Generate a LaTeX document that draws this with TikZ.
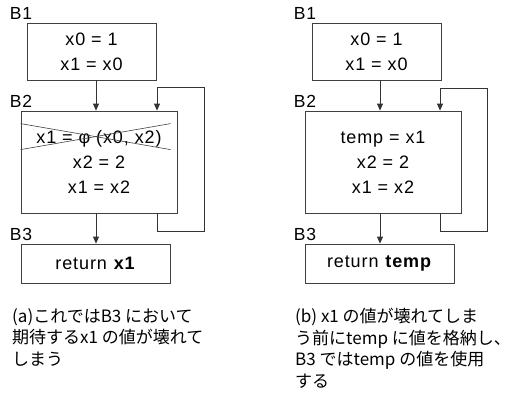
\documentclass[tikz,border=0pt]{standalone}
\usepackage{fontspec}
\setmainfont{Liberation Sans}[LetterSpace=5]
\newfontfamily\cjk{Noto Sans CJK JP}
\usetikzlibrary{arrows.meta}

\tikzset{
	blk/.style={draw=black!75, line width=0.8bp, inner sep=0pt, align=center, font=\fontsize{18bp}{25bp}\selectfont},
	lbl/.style={inner sep=0pt, anchor=base west, font=\fontsize{17.5bp}{17.5bp}\selectfont},
	arr/.style={draw=black!80, line width=0.8bp, -{Triangle[length=7bp,width=6bp]}},
	note/.style={inner sep=0pt, anchor=north west, align=left, font=\cjk\fontsize{17bp}{21.5bp}\selectfont},
}

\begin{document}
\begin{tikzpicture}[x=1bp,y=-1bp]
			\useasboundingbox (0,0) rectangle (518,398);
			% (a) left
			\node[blk, minimum width=129bp, minimum height=57bp] (a1) at (91.5,51.5) {x0 = 1\\x1 = x0};
			\node[blk, minimum width=156bp, minimum height=102bp] (a2) at (99,162) {x1 = φ (x0, x2)\\x2 = 2\\x1 = x2};
			\node[blk, minimum width=149bp, minimum height=39bp] (a3) at (95.5,263.5) {return \textbf{x1}};
			\node[lbl] (la1) at ([xshift=-17bp,yshift=3bp]a1.north west) {B1};
			\node[lbl] (la2) at ([xshift=-11bp,yshift=3bp]a2.north west) {B2};
			\node[lbl] (la3) at ([xshift=-11bp,yshift=3bp]a3.north west) {B3};
			\draw[arr] ([xshift=4.5bp]a1.south) -- ([xshift=4.5bp]a1.south |- a2.north);
			\draw[arr] ([xshift=-3bp]a2.south) -- ([xshift=-3bp]a2.south |- a3.north);
			\draw[arr] ([xshift=58bp]a2.south) -- ++(0,18) -- ++(47,0) -- ++(0,-144) -- ++(-47,0) -- ([xshift=58bp]a2.north);
			\draw[draw=black!75, line width=0.6bp] ([yshift=-13bp]a2.north west) -- ++(150,26);
			\draw[draw=black!75, line width=0.6bp] ([yshift=-39bp]a2.north west) -- ++(150,-26);
			% (b) right
			\node[blk, minimum width=129bp, minimum height=57bp] (b1) at (376.5,51.5) {x0 = 1\\x1 = x0};
			\node[blk, minimum width=156bp, minimum height=102bp] (b2) at (383,162) {temp = x1\\x2 = 2\\x1 = x2};
			\node[blk, minimum width=149bp, minimum height=39bp] (b3) at (379.5,263.5) {return \textbf{temp}};
			\node[lbl] (lb1) at ([xshift=-18bp,yshift=3bp]b1.north west) {B1};
			\node[lbl] (lb2) at ([xshift=-11bp,yshift=3bp]b2.north west) {B2};
			\node[lbl] (lb3) at ([xshift=-11bp,yshift=3bp]b3.north west) {B3};
			\draw[arr] ([xshift=3.5bp]b1.south) -- ([xshift=3.5bp]b1.south |- b2.north);
			\draw[arr] ([xshift=-3bp]b2.south) -- ([xshift=-3bp]b2.south |- b3.north);
			\draw[arr] ([xshift=57bp]b2.south) -- ++(0,18) -- ++(47,0) -- ++(0,-143) -- ++(-47,0) -- ([xshift=57bp]b2.north);
			% captions
			\node[note] (ca) at (12,308) {(a)これではB3 において\\期待するx1 の値が壊れて\\しまう};
			\node[note] (cb) at (295,308) {(b) x1 の値が壊れてしま\\う前にtemp に値を格納し、\\B3 ではtemp の値を使用\\する};
\end{tikzpicture}
\end{document}
